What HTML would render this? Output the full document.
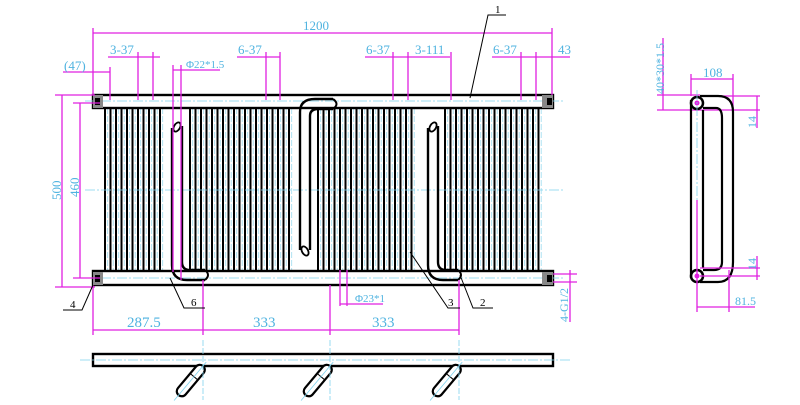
<!DOCTYPE html>
<html><head><meta charset="utf-8"><style>
html,body{margin:0;padding:0;background:#fff;width:800px;height:405px;overflow:hidden}
svg{display:block}
text{font-family:"Liberation Serif",serif;fill:#4fb3e0;font-size:13px}
.m{stroke:#e020e0;stroke-width:1.3;fill:none}
.k{stroke:#000;fill:none}
.c{stroke:#7fd3ee;stroke-width:0.8;fill:none;stroke-dasharray:10 2 2 2}
.t{fill:#000;font-size:11px}
</style></head><body>
<svg id="s" width="800" height="405" viewBox="0 0 800 405" xmlns="http://www.w3.org/2000/svg">
<g id="bars"></g>
<rect x="93" y="95" width="460" height="13" class="k" stroke-width="2.4"/>
<rect x="93" y="271" width="460" height="14" class="k" stroke-width="2.4"/>
<line x1="85" y1="101" x2="565" y2="101" class="c"/>
<line x1="85" y1="278" x2="565" y2="278" class="c"/>
<line x1="85" y1="190" x2="565" y2="190" class="c"/>
<rect x="93" y="95" width="10" height="13" fill="#888"/><rect x="95" y="98" width="5" height="7" fill="#000"/>
<rect x="93" y="272" width="10" height="13" fill="#888"/><rect x="95" y="275" width="5" height="7" fill="#000"/>
<rect x="542" y="95" width="11" height="13" fill="#888"/><rect x="547" y="98" width="5" height="7" fill="#000"/>
<rect x="542" y="272" width="11" height="13" fill="#888"/><rect x="547" y="275" width="5" height="7" fill="#000"/>
<path d="M172 128 V265 Q172 280 187 280 H205 M182 126 V262 Q182 270 190 270 H205" class="k" stroke-width="2.4"/>
<path d="M205 270 Q211 275 205 280" class="k" stroke-width="2"/>
<ellipse cx="177" cy="127" rx="5" ry="3" class="k" stroke-width="1.8" transform="rotate(-60 177 127)"/>
<path d="M300 250 V112 Q300 99 315 99 H333 M310 250 V116 Q310 109 318 109 H333" class="k" stroke-width="2.4"/>
<path d="M333 99 Q340 104 333 109" class="k" stroke-width="2"/>
<ellipse cx="305" cy="251" rx="5" ry="3" class="k" stroke-width="1.8" transform="rotate(60 305 251)"/>
<path d="M428 128 V265 Q428 280 443 280 H458 M438 126 V262 Q438 270 446 270 H458" class="k" stroke-width="2.4"/>
<path d="M458 270 Q464 275 458 280" class="k" stroke-width="2"/>
<ellipse cx="433" cy="127" rx="5" ry="3" class="k" stroke-width="1.8" transform="rotate(-60 433 127)"/>
<path d="M93 28 V95 M552 28 V95 M93 33 H552" class="m"/>
<text x="303" y="30">1200</text>
<path d="M108 57 H160 M138 52 V100 M153 52 V100" class="m"/><text x="110" y="54">3-37</text>
<path d="M63 72 H110 M110 67 V100" class="m"/><text x="64" y="70">(47)</text>
<path d="M237 57 H280 M266 52 V100 M280 52 V100" class="m"/><text x="238" y="54">6-37</text>
<path d="M173 70 H220 M173 65 V272 M181 65 V280" class="m"/><text x="186" y="68" style="font-size:11px">Φ22*1.5</text>
<path d="M365 57 H450 M393 52 V100 M408 52 V100 M451 52 V100" class="m"/><text x="366" y="54">6-37</text><text x="415" y="54">3-111</text>
<path d="M492 57 H570 M521 52 V100 M536 52 V100" class="m"/><text x="493" y="54">6-37</text><text x="558" y="54">43</text>
<path d="M470 98 L488 15 H506" class="k" stroke-width="1"/><text x="495" y="13" class="t">1</text>
<path d="M55 95 H95 M55 287 H95 M62 95 V287 M73 103 H100 M73 278 H100 M80 103 V278" class="m"/>
<text transform="translate(61 200) rotate(-90)">500</text>
<text transform="translate(79 197) rotate(-90)">460</text>
<path d="M93 285 V335 M203 280 V335 M330 285 V335 M459 280 V335 M93 330 H459" class="m"/>
<text x="127" y="327" style="font-size:15px">287.5</text><text x="253" y="327" style="font-size:15px">333</text><text x="372" y="327" style="font-size:15px">333</text>
<path d="M340 270 V306 M347 270 V306 M340 304 H383" class="m"/><text x="355" y="302" style="font-size:11px">Φ23*1</text>
<path d="M553 274 H577 M553 282 H577 M570 270 V322" class="m"/>
<text transform="translate(568 322) rotate(-90)" style="font-size:12px">4-G1/2</text>
<path d="M93 285 L82 310 H63" class="k" stroke-width="1"/><text x="70" y="308" class="t">4</text>
<path d="M170 278 L184 308 H205" class="k" stroke-width="1"/><text x="191" y="306" class="t">6</text>
<path d="M410 252 L448 308 H460" class="k" stroke-width="1"/><text x="448" y="306" class="t">3</text>
<path d="M460 275 L473 308 H493" class="k" stroke-width="1"/><text x="480" y="306" class="t">2</text>
<rect x="93" y="354" width="460" height="12" class="k" stroke-width="2.4"/>
<line x1="80" y1="360" x2="570" y2="360" class="c"/>
<g id="stubs"></g>
<path d="M663 38 V110 M657 95 H700 M657 110 H700 M691 74 V96 M733 74 V110 M691 79 H733 M700 110 H760 M700 96 H760 M757 96 V128" class="m"/>
<text transform="translate(664 94) rotate(-90)" style="font-size:12px">40*30*1.5</text>
<text x="703" y="77">108</text>
<text transform="translate(756 128) rotate(-90)" style="font-size:12px">14</text>
<path d="M691 100 V278 M703 110 V268 M700 96 H718 Q733 96 733 112 V262 Q733 282 718 282 H700 M703 108 H716 Q722 108 722 118 V262 Q722 270 714 270 H703" class="k" stroke-width="2.2"/>
<circle cx="697" cy="103" r="6" class="k" stroke-width="2.5"/><circle cx="697" cy="103" r="2.5" fill="#e020e0"/>
<circle cx="697" cy="276" r="6" class="k" stroke-width="2.5"/><circle cx="697" cy="276" r="2.5" fill="#e020e0"/>
<line x1="697" y1="90" x2="697" y2="290" class="c"/>
<path d="M697 200 V312 M729 270 V312 M697 307 H755 M700 268 H760 M700 276 H760 M757 256 V280" class="m"/>
<text x="735" y="305" style="font-size:12px">81.5</text>
<text transform="translate(756 270) rotate(-90)" style="font-size:12px">14</text>
</svg>
<script>
var g=document.getElementById('bars'),h='';
[[105,160],[190,290],[318,414],[445,542]].forEach(function(r){for(var x=r[0];x<=r[1];x+=5.5){h+='<line x1="'+x+'" y1="108" x2="'+x+'" y2="271" stroke="#000" stroke-width="2"/>';h+='<line x1="'+(x+2.7)+'" y1="108" x2="'+(x+2.7)+'" y2="271" stroke="#9ddcf0" stroke-width="0.8" stroke-dasharray="6 2"/>';}});
g.innerHTML=h;
var s='';[203,330,459].forEach(function(x){s+='<g transform="translate('+x+' 366) rotate(40)"><rect x="-5" y="0" width="10" height="38" rx="5" fill="#fff" stroke="#000" stroke-width="2.2"/><line x1="-5" y1="14" x2="5" y2="14" stroke="#000"/><line x1="0" y1="-5" x2="0" y2="45" stroke="#7fd3ee" stroke-width="0.8"/></g><line x1="'+x+'" y1="340" x2="'+x+'" y2="400" stroke="#7fd3ee" stroke-width="0.8" stroke-dasharray="6 2"/>';});
document.getElementById('stubs').innerHTML=s;
</script>
</body></html>
